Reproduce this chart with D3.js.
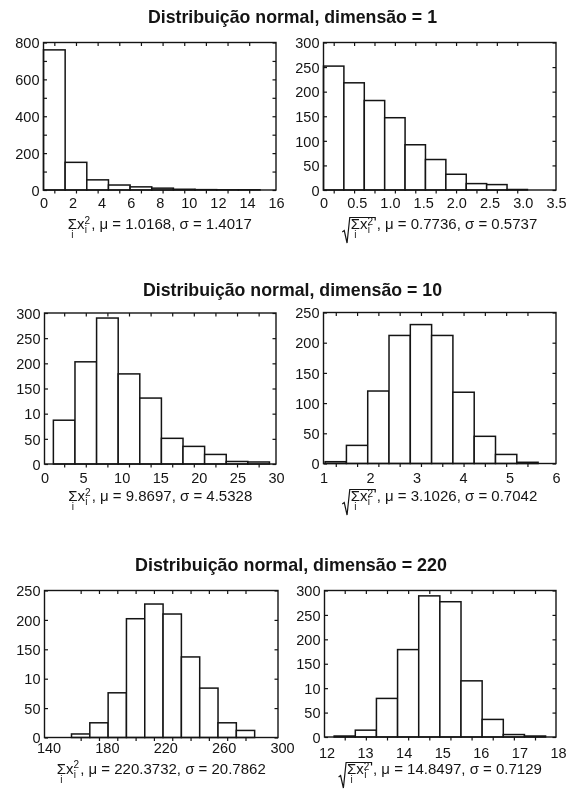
<!DOCTYPE html>
<html>
<head>
<meta charset="utf-8">
<script src="https://cdn.jsdelivr.net/npm/d3@7"></script>
<style>
  body { margin: 0; background: #fff; }
  svg { display: block; will-change: transform; }
</style>
</head>
<body>
<script>
// ---- data -------------------------------------------------------------
const titles = [
  "Distribuição normal, dimensão = 1",
  "Distribuição normal, dimensão = 10",
  "Distribuição normal, dimensão = 220"
];

// dimension 1: sum of squares and its square root (10 bins each)
const countsSq1   = [760, 150, 55, 27, 17, 10, 4, 2, 1, 1];
const binsSq1     = [0, 1.49];            // first edge, bin width
const countsRoot1 = [252, 218, 182, 147, 92, 62, 32, 13, 11, 1];
const binsRoot1   = [0, 0.307];

// dimension 10
const countsSq10   = [87, 203, 290, 179, 131, 51, 35, 19, 5, 4];
const binsSq10     = [1.15, 2.8];
const countsRoot10 = [3, 30, 120, 212, 230, 212, 118, 45, 15, 2];
const binsRoot10   = [1.035, 0.458];

// dimension 220
const countsSq220   = [6, 25, 76, 202, 227, 210, 137, 84, 25, 12];
const binsSq220     = [158.5, 12.55];
const countsRoot220 = [2, 14, 79, 179, 289, 277, 115, 36, 5, 2];
const binsRoot220   = [12.25, 0.548];

// axis ticks and their printed labels
const xTicksSq1 = [0, 2, 4, 6, 8, 10, 12, 14, 16];
const xLabelsSq1 = ["0", "2", "4", "6", "8", "10", "12", "14", "16"];
const yTicksSq1 = [0, 200, 400, 600, 800];
const yMinorSq1 = [0, 100, 200, 300, 400, 500, 600, 700, 800];
const yLabelsSq1 = ["0", "200", "400", "600", "800"];

const xTicksRoot1 = [0, 0.5, 1, 1.5, 2, 2.5, 3, 3.5];
const xLabelsRoot1 = ["0", "0.5", "1.0", "1.5", "2.0", "2.5", "3.0", "3.5"];
const yTicksRoot1 = [0, 50, 100, 150, 200, 250, 300];
const yLabelsRoot1 = ["0", "50", "100", "150", "200", "250", "300"];

const xTicksSq10 = [0, 5, 10, 15, 20, 25, 30];
const xLabelsSq10 = ["0", "5", "10", "15", "20", "25", "30"];
const yTicksSq10 = [0, 50, 100, 150, 200, 250, 300];
const yLabelsSq10 = ["0", "50", "10", "150", "200", "250", "300"];

const xTicksRoot10 = [1, 2, 3, 4, 5, 6];
const xLabelsRoot10 = ["1", "2", "3", "4", "5", "6"];
const yTicksRoot10 = [0, 50, 100, 150, 200, 250];
const yLabelsRoot10 = ["0", "50", "100", "150", "200", "250"];

const xTicksSq220 = [140, 180, 220, 260, 300];
const xLabelsSq220 = ["140", "180", "220", "260", "300"];
const yTicksSq220 = [0, 50, 100, 150, 200, 250];
const yLabelsSq220 = ["0", "50", "10", "150", "200", "250"];

const xTicksRoot220 = [12, 13, 14, 15, 16, 17, 18];
const xLabelsRoot220 = ["12", "13", "14", "15", "16", "17", "18"];
const yTicksRoot220 = [0, 50, 100, 150, 200, 250, 300];
const yLabelsRoot220 = ["0", "50", "10", "150", "200", "250", "300"];

// sample statistics printed under each histogram
const statsMu    = ["1.0168", "0.7736", "9.8697", "3.1026", "220.3732", "14.8497"];
const statsSigma = ["1.4017", "0.5737", "4.5328", "0.7042", "20.7862", "0.7129"];

// ---- drawing ----------------------------------------------------------
const W = 568, H = 795;
const INK = "#141414";
const TICK_FONT = "'Liberation Sans', Arial, Helvetica, sans-serif";
const TITLE_FONT = "'Liberation Sans Narrow', 'Liberation Sans', Arial, sans-serif";

const svg = d3.select("body").append("svg")
  .attr("width", W).attr("height", H)
  .attr("viewBox", `0 0 ${W} ${H}`);

svg.append("rect").attr("width", W).attr("height", H).attr("fill", "#fff");

const panels = [
  { counts: countsSq1, bins: binsSq1, xDom: [0, 16], yDom: [0, 800],
    xT: xTicksSq1, xL: xLabelsSq1, yT: yTicksSq1, yL: yLabelsSq1, yMinor: yMinorSq1,
    box: { l: 43.5, r: 276, t: 42.5, b: 190 }, xBase: 208, xShift: 0, capBase: 229, root: false },
  { counts: countsRoot1, bins: binsRoot1, xDom: [0, 3.5], yDom: [0, 300],
    xT: xTicksRoot1, xL: xLabelsRoot1, yT: yTicksRoot1, yL: yLabelsRoot1,
    box: { l: 323.5, r: 556, t: 42.5, b: 190 }, xBase: 208, xShift: 0, capBase: 229, root: true },
  { counts: countsSq10, bins: binsSq10, xDom: [0, 30], yDom: [0, 300],
    xT: xTicksSq10, xL: xLabelsSq10, yT: yTicksSq10, yL: yLabelsSq10,
    box: { l: 44.5, r: 276, t: 313, b: 464 }, xBase: 483, xShift: 0, capBase: 501, root: false },
  { counts: countsRoot10, bins: binsRoot10, xDom: [1, 6], yDom: [0, 250],
    xT: xTicksRoot10, xL: xLabelsRoot10, yT: yTicksRoot10, yL: yLabelsRoot10,
    box: { l: 323.5, r: 556, t: 312.5, b: 463.5 }, xBase: 483, xShift: 0, capBase: 501, root: true },
  { counts: countsSq220, bins: binsSq220, xDom: [140, 300], yDom: [0, 250],
    xT: xTicksSq220, xL: xLabelsSq220, yT: yTicksSq220, yL: yLabelsSq220,
    box: { l: 44.5, r: 278, t: 590.5, b: 737.5 }, xBase: 753, xShift: 4, capBase: 773.5, root: false },
  { counts: countsRoot220, bins: binsRoot220, xDom: [12, 18], yDom: [0, 300],
    xT: xTicksRoot220, xL: xLabelsRoot220, yT: yTicksRoot220, yL: yLabelsRoot220,
    box: { l: 324.5, r: 556, t: 590.5, b: 737 }, xBase: 758, xShift: 2, capBase: 774, root: true }
];

const titlePos = [
  { x: 148, w: 289, y: 22.5 },
  { x: 143, w: 299, y: 296 },
  { x: 135, w: 312, y: 570.5 }
];

titles.forEach((t, i) => {
  svg.append("text")
    .attr("x", titlePos[i].x).attr("y", titlePos[i].y)
    .attr("font-family", TITLE_FONT).attr("font-weight", "bold")
    .attr("font-size", 19).attr("fill", INK)
    .attr("textLength", titlePos[i].w).attr("lengthAdjust", "spacingAndGlyphs")
    .text(t);
});

function styleAxis(g) {
  g.select(".domain").remove();
  g.selectAll("line").attr("stroke", INK).attr("stroke-width", 1.2);
  g.attr("font-family", TICK_FONT).attr("font-size", 14.5).attr("fill", INK);
  g.selectAll("text").attr("fill", INK);
}

function drawPanel(p, idx) {
  const { l, r, t, b } = p.box;
  const x = d3.scaleLinear().domain(p.xDom).range([l, r]);
  const y = d3.scaleLinear().domain(p.yDom).range([b, t]);
  const g = svg.append("g").attr("class", "panel-" + idx);

  const [start, width] = p.bins;
  const bins = p.counts.map((c, i) => ({ x0: start + i * width, x1: start + (i + 1) * width, c }));
  const centers = bins.map(d => (d.x0 + d.x1) / 2);

  // histogram bars
  g.selectAll("rect.bar").data(bins).join("rect")
    .attr("class", "bar")
    .attr("x", d => x(d.x0))
    .attr("width", d => x(d.x1) - x(d.x0))
    .attr("y", d => y(d.c))
    .attr("height", d => y(0) - y(d.c))
    .attr("fill", "#fff").attr("stroke", INK).attr("stroke-width", 1.5);

  // frame
  g.append("rect")
    .attr("x", l).attr("y", t).attr("width", r - l).attr("height", b - t)
    .attr("fill", "none").attr("stroke", INK).attr("stroke-width", 1.4);

  // tick marks at the bin centres, along top (inward) and bottom (outward)
  const xMarks = d3.axisBottom(x).tickValues(centers).tickSize(3.5).tickFormat("");
  g.append("g").attr("transform", `translate(0,${b})`).call(xMarks).call(styleAxis);
  g.append("g").attr("transform", `translate(0,${t})`).call(xMarks).call(styleAxis);

  // x tick labels
  const xLab = d3.axisBottom(x).tickValues(p.xT).tickSize(0)
    .tickFormat((d, i) => p.xL[i]);
  const gx = g.append("g").attr("transform", `translate(${p.xShift},${b})`)
    .call(xLab).call(styleAxis);
  gx.selectAll("text").attr("dy", null).attr("y", p.xBase - b);

  // y tick marks, inward on both sides
  const yMarkVals = p.yMinor || p.yT;
  g.append("g").attr("transform", `translate(${l},0)`)
    .call(d3.axisRight(y).tickValues(yMarkVals).tickSize(3.5).tickFormat("")).call(styleAxis);
  g.append("g").attr("transform", `translate(${r},0)`)
    .call(d3.axisLeft(y).tickValues(yMarkVals).tickSize(3.5).tickFormat("")).call(styleAxis);

  // y tick labels
  const gy = g.append("g").attr("transform", `translate(${l},0)`)
    .call(d3.axisLeft(y).tickValues(p.yT).tickSize(0).tickPadding(4)
      .tickFormat((d, i) => p.yL[i]))
    .call(styleAxis);
  gy.selectAll("text").attr("dy", "0.36em");

  caption((l + r) / 2, p.capBase, p.root, statsMu[idx], statsSigma[idx]);
}

// width of a string in the caption font
function textWidth(str, size) {
  const t = svg.append("text").attr("font-family", TICK_FONT).attr("font-size", size).text(str);
  const w = t.node().getComputedTextLength();
  t.remove();
  return w;
}

// Caption: Σ_i x_i^2 (optionally under a square root), followed by mean and std
function caption(cx, base, root, mu, sigma) {
  const FS = 15, SS = 10;
  const g = svg.append("g").attr("fill", INK);
  const pad = root ? 8.5 : 0;
  const supRise = root ? 4.5 : 5.5;

  const sigW = textWidth("Σ", FS);
  const sxW = textWidth("Σx", FS);
  const supW = textWidth("2", SS);
  const iW = textWidth("i", SS);
  const supX = pad + sxW + 0.3;
  let end = supX + supW + 0.8;
  if (root) end += 2.5;

  const txt = g.append("text")
    .attr("font-family", TICK_FONT).attr("font-size", FS)
    .attr("x", pad).attr("y", base);
  txt.append("tspan").text("Σx");
  txt.append("tspan").attr("font-size", SS).attr("dy", -supRise).text("2");
  txt.append("tspan").attr("font-size", SS).attr("x", supX).attr("dy", supRise + 4.2).text("i");
  txt.append("tspan").attr("font-size", SS).attr("x", pad + sigW / 2 - iW / 2).attr("dy", 4.8).text("i");
  txt.append("tspan").attr("x", end).attr("dy", -9).text(`, μ = ${mu}, σ = ${sigma}`);

  if (root) {
    const top = base - 11.5, bot = base + 14;
    const barEnd = supX + supW + 1.8;
    g.append("path")
      .attr("d", `M0,${base + 3} L2,${base + 1.5} L4.8,${bot} L7.5,${top} L${barEnd},${top} L${barEnd},${top + 3}`)
      .attr("fill", "none").attr("stroke", INK).attr("stroke-width", 1.2)
      .attr("stroke-linejoin", "miter");
  }

  const total = end + textWidth(`, μ = ${mu}, σ = ${sigma}`, FS);
  g.attr("transform", `translate(${cx - total / 2},0)`);
}

panels.forEach(drawPanel);
</script>
</body>
</html>
